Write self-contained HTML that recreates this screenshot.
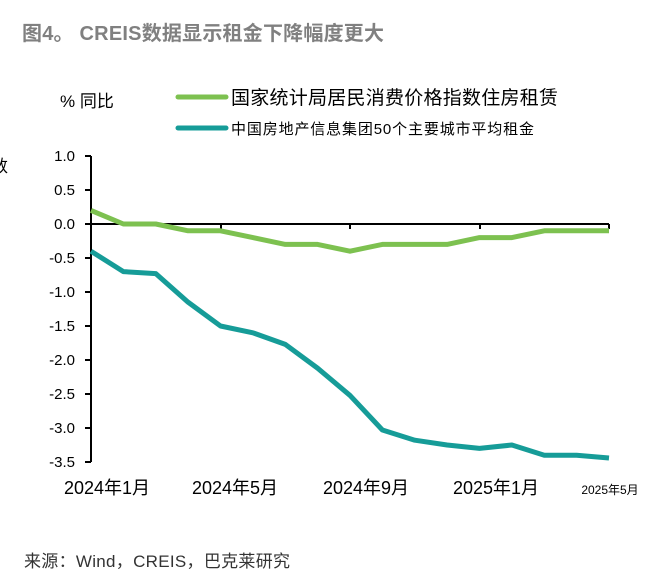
<!DOCTYPE html>
<html><head><meta charset="utf-8"><style>
body{margin:0;background:#fff;width:653px;height:583px;overflow:hidden;font-family:"Liberation Sans","Noto Sans CJK SC",sans-serif}
</style></head><body>
<svg width="653" height="583" xmlns="http://www.w3.org/2000/svg" font-family="Liberation Sans, Noto Sans CJK SC, sans-serif">
<text x="22" y="40" font-size="20" font-weight="bold" fill="#808080" textLength="362">图4。 CREIS数据显示租金下降幅度更大</text>
<text x="60" y="107" font-size="17" fill="#000">% 同比</text>
<line x1="178" y1="97" x2="226" y2="97" stroke="#7dc150" stroke-width="5" stroke-linecap="round"/>
<text x="231" y="104" font-size="19" fill="#000" textLength="327">国家统计局居民消费价格指数住房租赁</text>
<line x1="178" y1="128" x2="226" y2="128" stroke="#169c98" stroke-width="5" stroke-linecap="round"/>
<text x="231" y="134" font-size="15" fill="#000" textLength="303">中国房地产信息集团50个主要城市平均租金</text>
<text x="-9" y="172" font-size="17" fill="#000">数</text>
<g font-size="15" fill="#000" text-anchor="end">
<text x="75" y="161">1.0</text><text x="75" y="195">0.5</text><text x="75" y="229">0.0</text>
<text x="75" y="263">-0.5</text><text x="75" y="297">-1.0</text><text x="75" y="331">-1.5</text>
<text x="75" y="365">-2.0</text><text x="75" y="399">-2.5</text><text x="75" y="433">-3.0</text><text x="75" y="467">-3.5</text>
</g>
<g stroke="#000" stroke-width="2">
<line x1="91" y1="156" x2="91" y2="462"/>
<line x1="85" y1="156" x2="91" y2="156"/><line x1="85" y1="190" x2="91" y2="190"/><line x1="85" y1="224" x2="91" y2="224"/><line x1="85" y1="258" x2="91" y2="258"/><line x1="85" y1="292" x2="91" y2="292"/><line x1="85" y1="326" x2="91" y2="326"/><line x1="85" y1="360" x2="91" y2="360"/><line x1="85" y1="394" x2="91" y2="394"/><line x1="85" y1="428" x2="91" y2="428"/><line x1="85" y1="462" x2="91" y2="462"/>
<line x1="91" y1="224" x2="609" y2="224"/>
<line x1="221" y1="224" x2="221" y2="229"/><line x1="350" y1="224" x2="350" y2="229"/><line x1="480" y1="224" x2="480" y2="229"/><line x1="609" y1="224" x2="609" y2="229"/>
</g>
<polyline fill="none" stroke="#7dc150" stroke-width="5" stroke-linejoin="round" points="91,210.4 123.4,224 155.8,224 188.1,230.8 220.5,230.8 252.9,237.6 285.3,244.4 317.6,244.4 350,251.2 382.4,244.4 414.8,244.4 447.1,244.4 479.5,237.6 511.9,237.6 544.3,230.8 576.6,230.8 609,230.8"/>
<polyline fill="none" stroke="#169c98" stroke-width="5" stroke-linejoin="round" points="91,251.2 123.4,271.6 155.8,273.6 188.1,302.2 220.5,326 252.9,332.8 285.3,344.4 317.6,368.2 350,395.4 382.4,430 414.8,440.2 447.1,445 479.5,448.4 511.9,445 544.3,455.2 576.6,455.2 609,458"/>
<g font-size="18" fill="#000" text-anchor="middle">
<text x="107" y="494">2024年1月</text><text x="235" y="494">2024年5月</text><text x="366" y="494">2024年9月</text><text x="496" y="494">2025年1月</text>
</g>
<text x="610" y="494" font-size="12" fill="#000" text-anchor="middle">2025年5月</text>
<text x="24" y="567" font-size="17" fill="#333" textLength="266">来源：Wind，CREIS，巴克莱研究</text>
</svg>
</body></html>
